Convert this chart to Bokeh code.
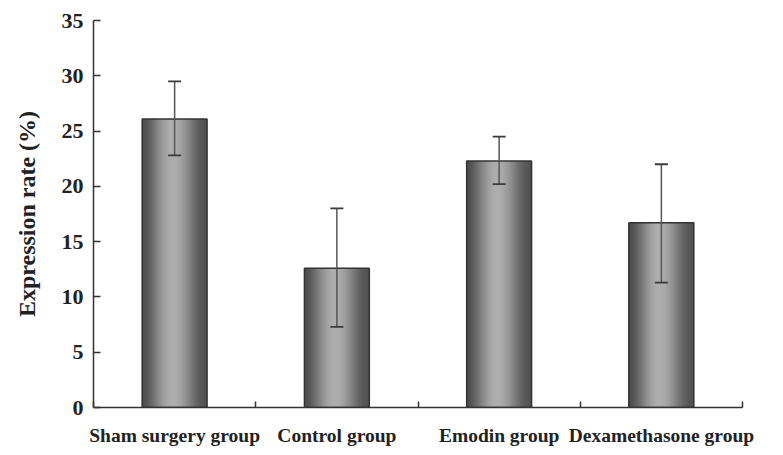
from bokeh.plotting import figure
from bokeh.models import (ColumnDataSource, Range1d, LinearAxis,
                          FixedTicker, Whisker, TeeHead)
from bokeh.transform import dodge
from bokeh.embed import file_html
from bokeh.resources import INLINE
import math

categories = ["Sham surgery group", "Control group", "Emodin group", "Dexamethasone group"]
means = [26.1, 12.6, 22.3, 16.7]
upper = [29.5, 18.0, 24.5, 22.0]
lower = [22.8, 7.3, 20.2, 11.3]
y_ticks = [0, 5, 10, 15, 20, 25, 30, 35]

FONT = "Liberation Serif"
DARK = "#333333"

n = len(categories)
pos = [i + 0.5 for i in range(n)]
src = ColumnDataSource(dict(x=pos, cat=categories, top=means, upper=upper, lower=lower))

p = figure(x_range=Range1d(0, n), y_range=Range1d(0, 35),
           width=783, height=455, output_backend="svg", toolbar_location=None,
           x_axis_location=None, min_border_left=93, min_border_right=41,
           min_border_top=20, min_border_bottom=48)
p.grid.grid_line_color = None
p.outline_line_color = None
p.background_fill_color = "white"

# y axis
ya = p.yaxis[0]
ya.ticker = FixedTicker(ticks=y_ticks)
ya.major_tick_in = 7
ya.major_tick_out = 0
ya.minor_tick_line_color = None
ya.axis_line_color = DARK
ya.axis_line_width = 1.5
ya.major_tick_line_color = DARK
ya.major_tick_line_width = 1.5
ya.major_label_text_font = FONT
ya.major_label_text_font_style = "bold"
ya.major_label_text_font_size = "22px"
ya.major_label_text_color = "#222222"
ya.major_label_standoff = 10
ya.axis_label = "Expression rate (%)"
ya.axis_label_text_font = FONT
ya.axis_label_text_font_style = "bold"
ya.axis_label_text_font_size = "24px"
ya.axis_label_text_color = "#222222"
ya.axis_label_standoff = 19

# x axis with boundary ticks
edges = list(range(n + 1))
edge_axis = LinearAxis(ticker=FixedTicker(ticks=edges),
                       major_tick_in=6, major_tick_out=0, minor_tick_line_color=None,
                       axis_line_color=DARK, axis_line_width=1.5,
                       major_tick_line_color=DARK, major_tick_line_width=1.5,
                       major_label_overrides={e: "" for e in edges},
                       major_label_standoff=0)
p.add_layout(edge_axis, "below")
cat_axis = LinearAxis(ticker=FixedTicker(ticks=pos),
                      major_label_overrides={x: c for x, c in zip(pos, categories)},
                      axis_line_color=None, major_tick_line_color=None,
                      minor_tick_line_color=None,
                      major_label_text_font=FONT, major_label_text_font_style="bold",
                      major_label_text_font_size="19.5px", major_label_text_color="#222222",
                      major_label_standoff=11)
p.add_layout(cat_axis, "below")

# gradient bars: nested left-anchored slices, widest drawn first (no gaps)
bar_w = 0.4
N = 40
for i in reversed(range(N)):
    t = (i + 0.5) / N
    d = abs(t - 0.47) / 0.53
    b = 0.5 * (1 + math.cos(math.pi * min(d, 1.0)))
    lo, hi = (0x48 if t < 0.47 else 0x52), 0xae
    v = int(lo + (hi - lo) * b)
    col = "#%02x%02x%02x" % (v, v, v)
    wi = (i + 1) / N * bar_w
    p.vbar(x=dodge("x", -bar_w / 2 + wi / 2), top="top", bottom=0, width=wi,
           source=src, fill_color=col, line_color=None)

p.vbar(x="x", top="top", bottom=0, width=bar_w, source=src,
       fill_color=None, line_color=DARK, line_width=1.5)

w = Whisker(base="x", upper="upper", lower="lower", source=src, level="overlay",
            line_color="#555555", line_width=1.5,
            upper_head=TeeHead(size=13, line_color="#3a3a3a", line_width=1.8),
            lower_head=TeeHead(size=13, line_color="#3a3a3a", line_width=1.8))
p.add_layout(w)

open("out.html", "w").write(file_html(p, INLINE))
